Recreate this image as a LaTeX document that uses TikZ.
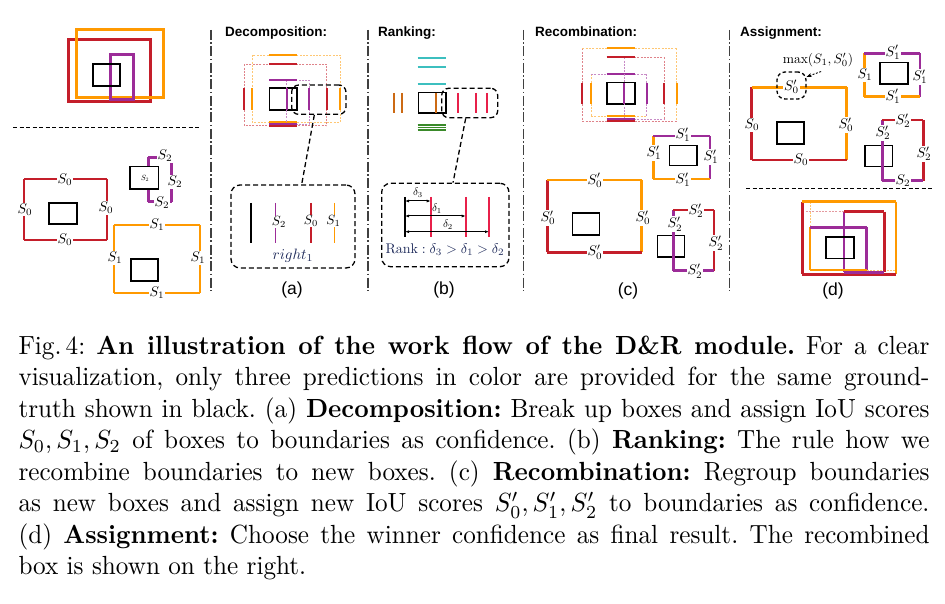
\documentclass[tikz,border=0pt]{standalone}
\usepackage{fontspec}
\newfontfamily\arialfont{Liberation Sans}
\usepackage{amsmath,amssymb}
\usepackage{xcolor}
\usepackage{tikz}
\usetikzlibrary{arrows.meta, positioning, calc}

\definecolor{boxred}{HTML}{C41E2A}
\definecolor{boxorange}{HTML}{FF9900}
\definecolor{boxpurple}{HTML}{9C2C98}
\definecolor{rankcyan}{HTML}{3CBFBF}
\definecolor{rankgreen}{HTML}{3A8A2A}
\definecolor{rankorange}{HTML}{CC6A14}
\definecolor{rankred}{HTML}{E8204A}
\definecolor{notenavy}{HTML}{1E2A5A}

% one box cut into four boundaries: left top right bottom, then their colours
\newcommand{\bracketbox}[8]{%
  \draw[bnd, #5] (#1,#2) -- (#1,#4);
  \draw[bnd, #7] (#3,#2) -- (#3,#4);
  \draw[bnd, #6] (#1,#2) -- (#3,#2);
  \draw[bnd, #8] (#1,#4) -- (#3,#4);
}

\begin{document}
\begin{tikzpicture}[x=1pt, y=-1pt,
    gt/.style={draw=black, line width=1.6},
    bnd/.style={line width=2.6, line cap=square},
    seg/.style={line width=2.2},
    ghost/.style={dash pattern=on 2pt off 1.3pt, line width=0.9},
    score/.style={fill=white, inner sep=0.6pt, scale=1.4},
    sepline/.style={draw=black!75, line width=1.3, dash pattern=on 10pt off 2.5pt on 1.5pt off 2.5pt},
    cut/.style={draw, dash pattern=on 4pt off 2.5pt, line width=1.1},
    zoomframe/.style={draw, dash pattern=on 5pt off 3pt, line width=1.3, rounded corners=7pt, inner sep=0},
    zoomlink/.style={draw, dash pattern=on 5pt off 3pt, line width=1.3},
    paneltitle/.style={font=\arialfont\bfseries\fontsize{13.5}{15}\selectfont, anchor=base west, inner sep=0},
    panelmark/.style={font=\arialfont\fontsize{17.5}{20}\selectfont},
    note/.style={text=notenavy},
]
    \useasboundingbox (0,0) rectangle (945,604);

    % ---- input: three predictions and the ground truth
    \draw[boxred, line width=3] (68,40) rectangle (150,102);
    \draw[boxorange, line width=3] (76,30) rectangle (163,98);
    \draw[boxpurple, line width=3] (110,55) rectangle (133,100);
    \draw[gt] (93,64) rectangle (120,86);
    \draw[cut, line width=1] (13,128) -- (199,128);

    \bracketbox{24}{179}{107}{240}{boxred}{boxred}{boxred}{boxred}
    \draw[gt] (49,203) rectangle (77,224);
    \node[score] (p0t) at (65,180) {$S_0$};
    \node[score] (p0b) at (65,240) {$S_0$};
    \node[score] (p0l) at (25,209.5) {$S_0$};
    \node[score] (p0r) at (106,208) {$S_0$};

    \bracketbox{148.3}{157.3}{171.7}{201.7}{boxpurple}{boxpurple}{boxpurple}{boxpurple}
    \draw[gt, fill=white] (130,166.7) rectangle (158.3,189.3);
    \node[inner sep=0, scale=0.75] (p2in) at (145,178.3) {$S_2$};
    \node[score] (p2t) at (165,156) {$S_2$};
    \node[score] (p2r) at (175,182) {$S_2$};
    \node[score] (p2b) at (162,202.5) {$S_2$};

    \bracketbox{114}{225}{200}{293}{boxorange}{boxorange}{boxorange}{boxorange}
    \draw[gt] (131,259) rectangle (158,281);
    \node[score] (p1t) at (157,225) {$S_1$};
    \node[score] (p1b) at (157,293) {$S_1$};
    \node[score] (p1l) at (115,258) {$S_1$};
    \node[score] (p1r) at (198,258) {$S_1$};

    % ---- separators
    \foreach \x in {211,368,523.5,729.5}
        \draw[sepline] (\x,30) -- (\x,291);

    % ---- (a) decomposition
    \node[paneltitle] (titleA) at (225,37) {Decomposition:};
    \draw[gt] (269.3,88.3) rectangle (296.7,110);
    \foreach \c/\l/\t/\r/\b in {boxorange/252.3/55/340/122.3, boxpurple/286.7/80/309/124, boxred/244.3/64.3/326.7/125.7}
    {
        \draw[ghost, \c!55] (\l,\t) rectangle (\r,\b);
        \draw[seg, \c] (269.3,\t) -- (296.7,\t) (269.3,\b) -- (296.7,\b)
                       (\l,88.3) -- (\l,110) (\r,88.3) -- (\r,110);
    }
    \node[zoomframe, minimum width=54.3pt, minimum height=29.3pt] (zoomA) at (318.8,99.7) {};
    \node[zoomframe, rounded corners=9pt, minimum width=124pt, minimum height=83pt] (detailA) at (293,226.5) {};
    \draw[zoomlink] ($(zoomA.south)+(-4.5,0)$) -- ($(detailA.north)+(8.7,0)$);
    \draw[black, line width=1.5] (251,203) -- (251,243);
    \draw[boxpurple, line width=1.5] (275.7,203) -- (275.7,243);
    \draw[boxred, line width=1.5] (311,203) -- (311,243);
    \draw[boxorange, line width=1.5] (334.3,203) -- (334.3,243);
    \node[score, scale=0.95] (dA2) at (279,222) {$S_2$};
    \node[score, scale=0.95] (dA0) at (311,221) {$S_0$};
    \node[score, scale=0.95] (dA1) at (333.5,221) {$S_1$};
    \node[note, scale=1.5] (rightA) at (293,256) {$right_1$};
    \node[panelmark] (markA) at (292,290) {(a)};

    % ---- (b) ranking
    \node[paneltitle] (titleB) at (378,37) {Ranking:};
    \foreach \y in {58.3,67.3,84}
        \draw[rankcyan, line width=1.6] (417.7,\y) -- (446,\y);
    \foreach \y in {125,127.5,130}
        \draw[rankgreen, line width=1.3] (417.7,\y) -- (446,\y);
    \draw[gt] (418.3,92.7) rectangle (446,113.3);
    \foreach \x in {394,401.7,435.7}
        \draw[rankorange, line width=1.6] (\x,93) -- (\x,113);
    \foreach \x in {457.7,475.7,487.3}
        \draw[rankred, line width=1.7] (\x,93) -- (\x,113);
    \node[zoomframe, minimum width=56pt, minimum height=29.4pt] (zoomB) at (469.7,103) {};
    \node[zoomframe, rounded corners=9pt, minimum width=127.3pt, minimum height=83.4pt] (detailB) at (445.3,225) {};
    \draw[zoomlink] ($(zoomB.south)+(-4,0)$) -- ($(detailB.north)+(7.7,0)$);
    \draw[black, line width=1.5] (405,197) -- (405,237);
    \foreach \x in {430.7,465.7,489}
        \draw[rankred, line width=1.6] (\x,197) -- (\x,237);
    \draw[{Latex[length=4pt]}-{Latex[length=4pt]}, line width=1] (405,201) -- (430.7,201);
    \draw[{Latex[length=4pt]}-{Latex[length=4pt]}, line width=1] (405,216) -- (465.7,216);
    \draw[{Latex[length=4pt]}-{Latex[length=4pt]}, line width=1] (405,231.7) -- (489,231.7);
    \node[scale=1.1, inner sep=0] (d3) at (418,193) {$\delta_3$};
    \node[scale=1.1, inner sep=0] (d1) at (437,208.5) {$\delta_1$};
    \node[scale=1.1, inner sep=0] (d2) at (448,224.5) {$\delta_2$};
    \node[note, scale=1.4] (rankB) at (445,250) {$\mathrm{Rank}:\delta_3>\delta_1>\delta_2$};
    \node[panelmark] (markB) at (444,290) {(b)};

    % ---- (c) recombination
    \node[paneltitle] (titleC) at (535,37) {Recombination:};
    \draw[gt] (606.7,82.7) rectangle (635,104);
    \foreach \l/\t/\r/\b/\cl/\ct/\cr/\cb in {582.3/48.3/676.7/121/boxred/boxorange/boxorange/boxred,
        591/74/646.7/116/boxorange/boxpurple/boxpurple/boxorange,
        624/57.3/664/119/boxpurple/boxred/boxred/boxpurple}
    {
        \draw[ghost, \cl!55] (\l,\t) -- (\l,\b);
        \draw[ghost, \ct!55] (\l,\t) -- (\r,\t);
        \draw[ghost, \cr!55] (\r,\t) -- (\r,\b);
        \draw[ghost, \cb!55] (\l,\b) -- (\r,\b);
        \draw[seg, \ct] (606.7,\t) -- (635,\t);
        \draw[seg, \cb] (606.7,\b) -- (635,\b);
        \draw[seg, \cl] (\l,83) -- (\l,104);
        \draw[seg, \cr] (\r,83) -- (\r,104);
    }

    \bracketbox{653.3}{136}{710}{179}{boxorange}{boxpurple}{boxpurple}{boxorange}
    \draw[gt] (669.3,145.7) rectangle (696.7,165.7);
    \node[score] (c1t) at (683,135) {$S'_1$};
    \node[score] (c1l) at (654,153) {$S'_1$};
    \node[score] (c1r) at (711,157) {$S'_1$};
    \node[score] (c1b) at (683,180) {$S'_1$};

    \bracketbox{547.3}{180}{641.7}{252.3}{boxred}{boxorange}{boxorange}{boxred}
    \draw[gt] (572.3,213.3) rectangle (599.3,235);
    \node[score] (c0t) at (595,180.5) {$S'_0$};
    \node[score] (c0l) at (548,218) {$S'_0$};
    \node[score] (c0r) at (643,218) {$S'_0$};
    \node[score] (c0b) at (595,252) {$S'_0$};

    \draw[gt] (657.3,235.7) rectangle (684.3,256.7);
    \bracketbox{673.3}{210}{714}{270.7}{boxpurple}{boxred}{boxred}{boxpurple}
    \node[score] (c2t) at (696,211) {$S'_2$};
    \node[score] (c2l) at (675,224) {$S'_2$};
    \node[score] (c2r) at (716,243) {$S'_2$};
    \node[score] (c2b) at (695,271) {$S'_2$};
    \node[panelmark] (markC) at (628,291) {(c)};

    % ---- (d) assignment
    \node[paneltitle] (titleD) at (740,37) {Assignment:};
    \bracketbox{751.7}{87.3}{846.7}{160}{boxred}{boxorange}{boxorange}{boxred}
    \draw[gt] (776.7,122.3) rectangle (804,144);
    \node[score] (a0t) at (791.5,87) {$S'_0$};
    \node[score] (a0l) at (752,125) {$S_0$};
    \node[score] (a0r) at (846,125) {$S'_0$};
    \node[score] (a0b) at (801,160) {$S_0$};
    \node[zoomframe, dash pattern=on 3.5pt off 2.5pt, rounded corners=8pt, minimum width=29pt, minimum height=27pt] (pickA) at (791.5,85.5) {};
    \node[scale=1.35] (maxA) at (818,60) {$\max(S_1,S'_0)$};
    \draw[-{Stealth[length=5pt, width=4pt]}, dash pattern=on 2pt off 1.5pt, line width=0.9] (maxA.-75) -- (pickA.30);

    \bracketbox{864.3}{53.3}{920}{96.7}{boxorange}{boxpurple}{boxpurple}{boxorange}
    \draw[gt] (880,62.7) rectangle (907.7,84);
    \node[score] (a1t) at (893,52.5) {$S'_1$};
    \node[score] (a1l) at (865,75) {$S_1$};
    \node[score] (a1r) at (920,77) {$S'_1$};
    \node[score] (a1b) at (893,96.5) {$S'_1$};

    \draw[cut, line width=1] (746,189) -- (932,189);
    \draw[gt] (865,145.7) rectangle (892.3,166.7);
    \bracketbox{882.3}{120}{923.3}{180.7}{boxpurple}{boxred}{boxred}{boxpurple}
    \node[score] (a2t) at (903,121) {$S'_2$};
    \node[score] (a2l) at (883,133) {$S'_2$};
    \node[score] (a2r) at (924,154) {$S'_2$};
    \node[score] (a2b) at (903,181) {$S_2$};

    % recombined result
    \draw[ghost, boxred!45] (802.3,211.7) -- (844,211.7);
    \draw[ghost, boxorange!55] (810,201.7) -- (810,227.3);
    \draw[ghost, boxorange!55] (866.7,270) -- (896,270);
    \bracketbox{802.3}{201.7}{896}{274.3}{boxred}{boxorange}{boxorange}{boxred}
    \bracketbox{844}{211.7}{884.3}{272.3}{boxpurple}{boxred}{boxred}{boxpurple}
    \bracketbox{810}{227.3}{866.7}{270}{boxorange}{boxpurple}{boxpurple}{boxorange}
    \draw[gt] (826,237.3) rectangle (854,258.3);
    \node[panelmark] (markD) at (833,291) {(d)};

    % ---- caption
    \node[anchor=north west, inner sep=0, xscale=2.5166, yscale=2.625, text width=362pt, align=justify,
          execute at begin node=\frenchspacing] (caption) at (18,335)
    {Fig.\,4: \textbf{An illustration of the work flow of the D\&R module.} For a clear\linebreak
     visualization, only three predictions in color are provided for the same ground-\linebreak
     truth shown in black. (a) \textbf{Decomposition:} Break up boxes and assign IoU scores\linebreak
     $S_0,S_1,S_2$ of boxes to boundaries as confidence. (b) \textbf{Ranking:} The rule how we\linebreak
     recombine boundaries to new boxes. (c) \textbf{Recombination:} Regroup boundaries\linebreak
     as new boxes and assign new IoU scores $S'_0,S'_1,S'_2$ to boundaries as confidence.\linebreak
     (d) \textbf{Assignment:} Choose the winner confidence as final result. The recombined\linebreak
     box is shown on the right.};
\end{tikzpicture}
\end{document}
